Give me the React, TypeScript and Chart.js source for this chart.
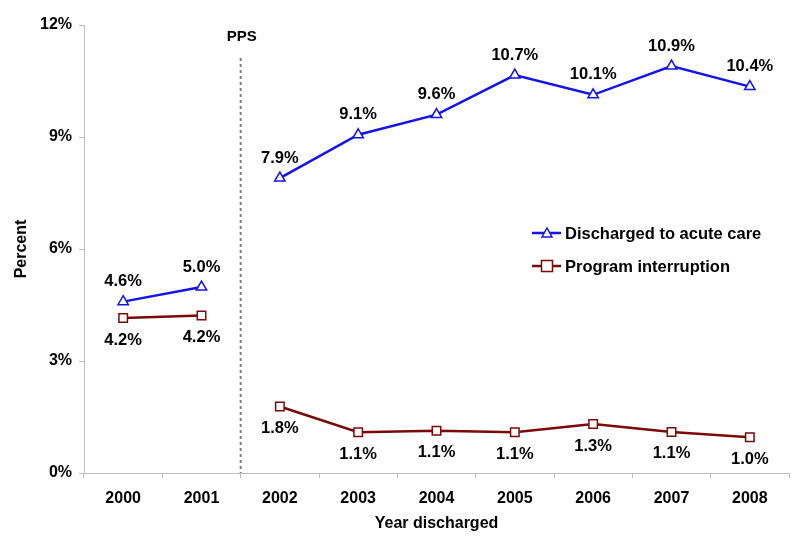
import React, { useEffect, useRef } from "react";
import { Chart, registerables } from "chart.js";

Chart.register(...registerables);

const categories = ["2000", "2001", "2002", "2003", "2004", "2005", "2006", "2007", "2008"];
const acuteValues = [4.59, 4.98, 7.9, 9.06, 9.6, 10.66, 10.13, 10.9, 10.35];
const acuteLabels = ["4.6%", "5.0%", "7.9%", "9.1%", "9.6%", "10.7%", "10.1%", "10.9%", "10.4%"];
const interruptValues = [4.15, 4.22, 1.78, 1.09, 1.13, 1.09, 1.31, 1.1, 0.96];
const interruptLabels = ["4.2%", "4.2%", "1.8%", "1.1%", "1.1%", "1.1%", "1.3%", "1.1%", "1.0%"];
const yTicks = [0, 3, 6, 9, 12];
const seriesNames = ["Discharged to acute care", "Program interruption"];
const BLUE = "#1414e6";
const RED = "#7a0a0a";
const FONT = "'Liberation Sans', Arial, sans-serif";

const overlayPlugin = {
  id: "overlay",
  afterDatasetsDraw(chart: any) {
    const ctx = chart.ctx;
    const xs = chart.scales.x;
    const area = chart.chartArea;
    ctx.save();
    // PPS divider
    const px = (xs.getPixelForValue(1) + xs.getPixelForValue(2)) / 2;
    ctx.strokeStyle = "#7f7f7f";
    ctx.lineWidth = 2;
    ctx.setLineDash([3, 3]);
    ctx.beginPath();
    ctx.moveTo(px, 58);
    ctx.lineTo(px, area.bottom);
    ctx.stroke();
    ctx.setLineDash([]);
    ctx.fillStyle = "#000";
    ctx.font = `bold 15px ${FONT}`;
    ctx.textAlign = "center";
    ctx.textBaseline = "middle";
    ctx.fillText("PPS", px + 1, 37);

    // data labels
    ctx.font = `bold 16.5px ${FONT}`;
    const m0 = chart.getDatasetMeta(0);
    const m1 = chart.getDatasetMeta(1);
    m0.data.forEach((p: any, i: number) => ctx.fillText(acuteLabels[i], p.x, p.y - 20));
    m1.data.forEach((p: any, i: number) => ctx.fillText(interruptLabels[i], p.x, p.y + 22));

    // axis titles
    ctx.font = `bold 16px ${FONT}`;
    ctx.fillText("Year discharged", (area.left + area.right) / 2, 524);
    ctx.save();
    ctx.translate(22, (area.top + area.bottom) / 2);
    ctx.rotate(-Math.PI / 2);
    ctx.fillText("Percent", 0, 0);
    ctx.restore();

    // legend
    const items = [
      { y: 233, color: BLUE, style: "triangle" },
      { y: 266, color: RED, style: "rect" },
    ];
    items.forEach((it, i) => {
      ctx.strokeStyle = it.color;
      ctx.lineWidth = 2.5;
      ctx.beginPath();
      ctx.moveTo(532, it.y);
      ctx.lineTo(561, it.y);
      ctx.stroke();
      ctx.fillStyle = "#fff";
      ctx.lineWidth = 1.5;
      ctx.beginPath();
      if (it.style === "triangle") {
        ctx.moveTo(547, it.y - 5);
        ctx.lineTo(552, it.y + 4);
        ctx.lineTo(542, it.y + 4);
        ctx.closePath();
      } else {
        ctx.rect(541.5, it.y - 5.5, 11, 11);
      }
      ctx.fill();
      ctx.stroke();
      ctx.fillStyle = "#000";
      ctx.font = `bold 16.5px ${FONT}`;
      ctx.textAlign = "left";
      ctx.fillText(seriesNames[i], 565, it.y + 1);
    });
    ctx.restore();
  },
};

export default function App() {
  const ref = useRef<HTMLCanvasElement>(null);
  useEffect(() => {
    if (!ref.current) return;
    const gapSeg = (color: string) => (c: any) => (c.p0DataIndex === 1 ? "rgba(0,0,0,0)" : color);
    const chart = new Chart(ref.current, {
      type: "line",
      data: {
        labels: categories,
        datasets: [
          {
            label: seriesNames[0],
            data: acuteValues,
            borderColor: BLUE,
            borderWidth: 2.5,
            pointStyle: "triangle",
            pointRadius: 6,
            pointBorderWidth: 1.5,
            pointBackgroundColor: "#fff",
            pointBorderColor: BLUE,
            segment: { borderColor: gapSeg(BLUE) },
          },
          {
            label: seriesNames[1],
            data: interruptValues,
            borderColor: RED,
            borderWidth: 2.5,
            pointStyle: "rect",
            pointRadius: 6,
            pointBorderWidth: 1.5,
            pointBackgroundColor: "#fff",
            pointBorderColor: RED,
            segment: { borderColor: gapSeg(RED) },
          },
        ],
      },
      options: {
        responsive: false,
        animation: false,
        layout: { padding: { top: 25, right: 11, left: 0, bottom: 0 } },
        plugins: { legend: { display: false }, tooltip: { enabled: false } },
        scales: {
          x: {
            offset: true,
            grid: {
              offset: true,
              drawOnChartArea: false,
              color: "#bfbfbf",
              tickLength: 5,
            },
            border: { color: "#bfbfbf", width: 1 },
            ticks: { color: "#000", font: { family: FONT, size: 16, weight: "bold" }, padding: 11 },
            afterFit: (s: any) => {
              s.height = 72;
            },
          },
          y: {
            min: 0,
            max: 12,
            afterBuildTicks: (s: any) => {
              s.ticks = yTicks.map((v) => ({ value: v }));
            },
            grid: { drawOnChartArea: false, color: "#bfbfbf", tickLength: 5 },
            border: { color: "#bfbfbf", width: 1 },
            ticks: {
              color: "#000",
              font: { family: FONT, size: 16, weight: "bold" },
              padding: 7,
              callback: (v: any) => `${v}%`,
            },
            afterFit: (s: any) => {
              s.width = 84;
            },
          },
        },
      },
      plugins: [overlayPlugin],
    });
    return () => chart.destroy();
  }, []);
  return (
    <div style={{ position: "fixed", left: 0, top: 0, width: 800, height: 545, background: "#fff" }}>
      <canvas ref={ref} width={800} height={545} style={{ display: "block" }} />
    </div>
  );
}
